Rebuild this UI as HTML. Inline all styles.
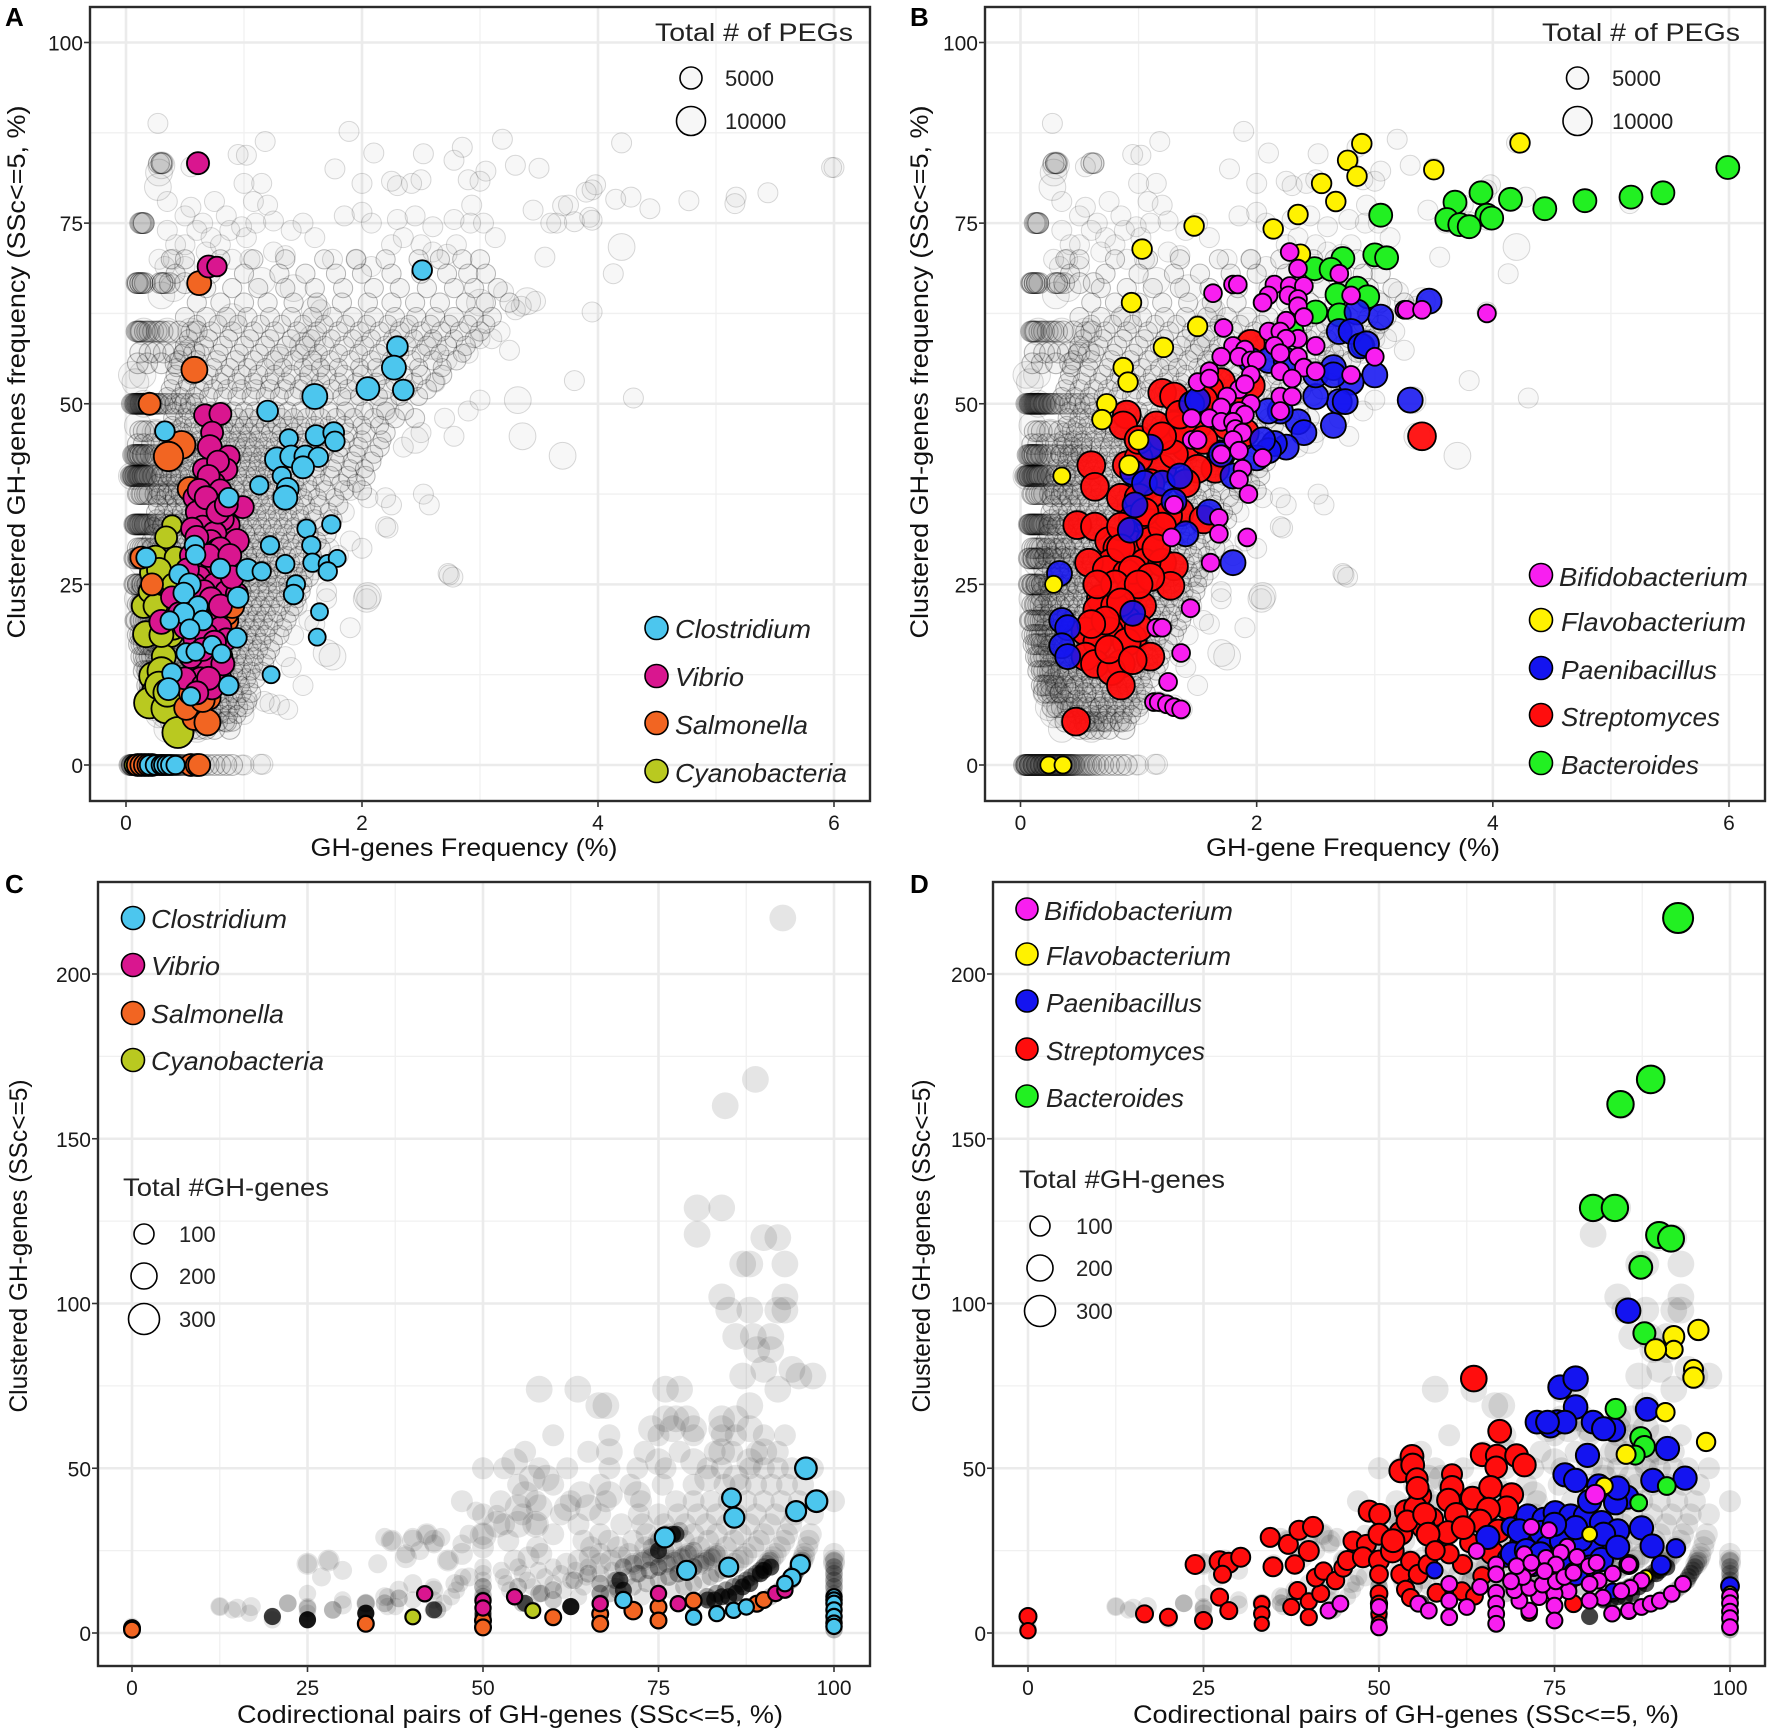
<!DOCTYPE html>
<html lang="en"><head><meta charset="utf-8"><title>GH-gene clustering scatter panels</title>
<style>
html,body{margin:0;padding:0;background:#fff}
svg{display:block;font-family:"Liberation Sans",sans-serif}
.tick{font-size:21px;fill:#1a1a1a}
.axt{font-size:25px;fill:#111}
.leg{font-size:26px;font-style:italic;fill:#222}
.lt{font-size:25px;fill:#222}
.ln{font-size:22px;fill:#222}
.letter{font-size:26px;font-weight:bold;fill:#000}
.frame{fill:none;stroke:#2b2b2b;stroke-width:2.4}
.lk{stroke:#000;stroke-width:1.6}
</style></head><body>
<svg id="figure" xmlns="http://www.w3.org/2000/svg" width="1772" height="1735" viewBox="0 0 1772 1735">
<rect width="1772" height="1735" fill="#fff"/>

<g>
<g id="a-grid"></g><g id="a-bg"></g><g id="a-marks"></g>
<rect class="frame" x="90" y="7" width="780" height="794"/>
<g id="a-ticks"></g>
<text class="letter" x="5" y="26">A</text>
<text class="axt" transform="translate(25,372) rotate(-90)" text-anchor="middle" textLength="533" lengthAdjust="spacingAndGlyphs">Clustered GH-genes frequency (SSc&lt;=5, %)</text>
<text class="axt" x="464" y="856" text-anchor="middle" textLength="307" lengthAdjust="spacingAndGlyphs">GH-genes Frequency (%)</text>
<g>
<text class="lt" x="655" y="41" textLength="198" lengthAdjust="spacingAndGlyphs">Total # of  PEGs</text>
<circle cx="691" cy="78" r="11" fill="#f7f7f7" class="lk"/><text class="ln" x="725" y="86">5000</text>
<circle cx="691" cy="121" r="14.5" fill="#f7f7f7" class="lk"/><text class="ln" x="725" y="129">10000</text>
</g>
<g>
<circle cx="656.5" cy="628" r="11.5" fill="#4cc6ee" class="lk"/><text class="leg" x="675" y="638" textLength="136" lengthAdjust="spacingAndGlyphs">Clostridium</text>
<circle cx="656.5" cy="676" r="11.5" fill="#d9168f" class="lk"/><text class="leg" x="675" y="686" textLength="69" lengthAdjust="spacingAndGlyphs">Vibrio</text>
<circle cx="656.5" cy="723" r="11.5" fill="#f26522" class="lk"/><text class="leg" x="675" y="734" textLength="133" lengthAdjust="spacingAndGlyphs">Salmonella</text>
<circle cx="656.5" cy="771" r="11.5" fill="#b9c920" class="lk"/><text class="leg" x="675" y="782" textLength="172" lengthAdjust="spacingAndGlyphs">Cyanobacteria</text>
</g>
</g>

<g>
<g id="b-grid"></g><g id="b-bg"></g><g id="b-marks"></g>
<rect class="frame" x="985" y="7" width="780" height="794"/>
<g id="b-ticks"></g>
<text class="letter" x="910" y="26">B</text>
<text class="axt" transform="translate(928,372) rotate(-90)" text-anchor="middle" textLength="533" lengthAdjust="spacingAndGlyphs">Clustered GH-genes frequency (SSc&lt;=5, %)</text>
<text class="axt" x="1353" y="856" text-anchor="middle" textLength="294" lengthAdjust="spacingAndGlyphs">GH-gene Frequency (%)</text>
<g>
<text class="lt" x="1542" y="41" textLength="198" lengthAdjust="spacingAndGlyphs">Total # of  PEGs</text>
<circle cx="1577.5" cy="78" r="11" fill="#f7f7f7" class="lk"/><text class="ln" x="1612" y="86">5000</text>
<circle cx="1577.5" cy="121" r="14.5" fill="#f7f7f7" class="lk"/><text class="ln" x="1612" y="129">10000</text>
</g>
<g>
<circle cx="1541" cy="575" r="11.5" fill="#f81ff0" class="lk"/><text class="leg" x="1559" y="586" textLength="189" lengthAdjust="spacingAndGlyphs">Bifidobacterium</text>
<circle cx="1541" cy="620" r="11.5" fill="#fff200" class="lk"/><text class="leg" x="1561" y="631" textLength="185" lengthAdjust="spacingAndGlyphs">Flavobacterium</text>
<circle cx="1541" cy="668" r="11.5" fill="#1414f0" class="lk"/><text class="leg" x="1561" y="679" textLength="156" lengthAdjust="spacingAndGlyphs">Paenibacillus</text>
<circle cx="1541" cy="715" r="11.5" fill="#ff0d0d" class="lk"/><text class="leg" x="1561" y="726" textLength="159" lengthAdjust="spacingAndGlyphs">Streptomyces</text>
<circle cx="1541" cy="763" r="11.5" fill="#22f022" class="lk"/><text class="leg" x="1561" y="774" textLength="138" lengthAdjust="spacingAndGlyphs">Bacteroides</text>
</g>
</g>

<g>
<g id="c-grid"></g><g id="c-bg"></g><g id="c-marks"></g>
<rect class="frame" x="98" y="882" width="772" height="784"/>
<g id="c-ticks"></g>
<text class="letter" x="5" y="893">C</text>
<text class="axt" transform="translate(27,1246) rotate(-90)" text-anchor="middle" textLength="333" lengthAdjust="spacingAndGlyphs">Clustered GH-genes (SSc&lt;=5)</text>
<text class="axt" x="510" y="1723" text-anchor="middle" textLength="546" lengthAdjust="spacingAndGlyphs">Codirectional pairs of GH-genes (SSc&lt;=5, %)</text>
<g>
<circle cx="133" cy="918" r="11.5" fill="#4cc6ee" class="lk"/><text class="leg" x="151" y="928" textLength="136" lengthAdjust="spacingAndGlyphs">Clostridium</text>
<circle cx="133" cy="965" r="11.5" fill="#d9168f" class="lk"/><text class="leg" x="151" y="975" textLength="69" lengthAdjust="spacingAndGlyphs">Vibrio</text>
<circle cx="133" cy="1013" r="11.5" fill="#f26522" class="lk"/><text class="leg" x="151" y="1023" textLength="133" lengthAdjust="spacingAndGlyphs">Salmonella</text>
<circle cx="133" cy="1060" r="11.5" fill="#b9c920" class="lk"/><text class="leg" x="151" y="1070" textLength="173" lengthAdjust="spacingAndGlyphs">Cyanobacteria</text>
</g>
<g>
<text class="lt" x="123" y="1196" textLength="206" lengthAdjust="spacingAndGlyphs">Total #GH-genes</text>
<circle cx="144" cy="1234" r="10" fill="#fff" class="lk"/><text class="ln" x="179" y="1242">100</text>
<circle cx="144" cy="1276" r="13" fill="#fff" class="lk"/><text class="ln" x="179" y="1284">200</text>
<circle cx="144" cy="1319" r="15.5" fill="#fff" class="lk"/><text class="ln" x="179" y="1327">300</text>
</g>
</g>

<g>
<g id="d-grid"></g><g id="d-bg"></g><g id="d-marks"></g>
<rect class="frame" x="993" y="882" width="772" height="784"/>
<g id="d-ticks"></g>
<text class="letter" x="910" y="893">D</text>
<text class="axt" transform="translate(930,1246) rotate(-90)" text-anchor="middle" textLength="333" lengthAdjust="spacingAndGlyphs">Clustered GH-genes (SSc&lt;=5)</text>
<text class="axt" x="1406" y="1723" text-anchor="middle" textLength="546" lengthAdjust="spacingAndGlyphs">Codirectional pairs of GH-genes (SSc&lt;=5, %)</text>
<g>
<circle cx="1027" cy="909" r="11" fill="#f81ff0" class="lk"/><text class="leg" x="1044" y="920" textLength="189" lengthAdjust="spacingAndGlyphs">Bifidobacterium</text>
<circle cx="1027" cy="954" r="11" fill="#fff200" class="lk"/><text class="leg" x="1046" y="965" textLength="185" lengthAdjust="spacingAndGlyphs">Flavobacterium</text>
<circle cx="1027" cy="1001" r="11" fill="#1414f0" class="lk"/><text class="leg" x="1046" y="1012" textLength="156" lengthAdjust="spacingAndGlyphs">Paenibacillus</text>
<circle cx="1027" cy="1049" r="11" fill="#ff0d0d" class="lk"/><text class="leg" x="1046" y="1060" textLength="159" lengthAdjust="spacingAndGlyphs">Streptomyces</text>
<circle cx="1027" cy="1096" r="11" fill="#22f022" class="lk"/><text class="leg" x="1046" y="1107" textLength="138" lengthAdjust="spacingAndGlyphs">Bacteroides</text>
</g>
<g>
<text class="lt" x="1019" y="1188" textLength="206" lengthAdjust="spacingAndGlyphs">Total #GH-genes</text>
<circle cx="1040" cy="1226" r="10" fill="#fff" class="lk"/><text class="ln" x="1076" y="1234">100</text>
<circle cx="1040" cy="1268" r="13" fill="#fff" class="lk"/><text class="ln" x="1076" y="1276">200</text>
<circle cx="1040" cy="1311" r="15.5" fill="#fff" class="lk"/><text class="ln" x="1076" y="1319">300</text>
</g>
</g>
</svg>

<script>
/* ---------- axis tick labels ---------- */
const freqTicks = [0,2,4,6];
const freqMinorTicks = [1,3,5];
const pctTicks = [0,25,50,75,100];
const pctMinorTicks = [12.5,37.5,62.5,87.5];
const clusteredTicks = [0,50,100,150,200];
const clusteredMinorTicks = [25,75,125,175];

/* ---------- background genomes, panels A and B: rows of [clustered %, [GH freq %...]] ---------- */
const bgPegLevelRows = [
[0,[.03,.04,.05,.06,.07,.08,.09,.1,.11,.12,.13,.14,.15,.16,.17,.18,.19,.2,.21,.22,.23,.24,.25,.26,.27,.28,.29,.3,.31,.32,.33,.34,.35,.36,.37,.38,.4,.41,.43,.44,.46,.48,.5,.52,.54,.56,.58,.6,.63,.66,.7,.75,.8,.85,.9,.05,.06,.08,.09,.11,.12,.14,.15,.17,.18,.2,.21,.23,.24,.26,.27,.29,.3,.32,.33,.35,.37,.39,.42,.45,.05,.08,.11,.14,.17,.2,.23,.26,.29,.32,.35,.38,.41]],
[83.3,[.28,.3,.3,.31,.6,.62]],
[75,[.12,.13,.14,.15,.15]],
[66.7,[.09,.1,.1,.12,.12,.14,.14,.16,.29,.31,.31,.33,.37,.5,.62]],
[60,[.09,.1,.11,.12,.13,.16,.18,.2,.23,.26,.28,.31,.36,.45,.6]],
[57.1,[.12,.2,.25,.32,.4,.5,.58]],
[55.6,[.1,.18,.3,.42]],
[50,[.05,.06,.07,.08,.08,.09,.09,.1,.1,.11,.11,.12,.12,.13,.13,.14,.14,.15,.15,.16,.16,.17,.17,.18,.19,.2,.2,.21,.22,.24,.25,.27,.28,.31,.34,.38,.42,.46,.5,.55,.6]],
[46.2,[.12,.15,.18,.25,.33,.44]],
[44.4,[.1,.15,.22,.3,.4,.52]],
[42.9,[.06,.07,.08,.09,.1,.1,.11,.12,.12,.14,.14,.15,.17,.18,.21,.25,.3,.35,.4,.45,.52]],
[40,[.04,.05,.06,.06,.07,.08,.08,.09,.1,.1,.11,.11,.12,.12,.13,.14,.14,.15,.16,.16,.17,.18,.2,.23,.26,.3,.34,.38,.43]],
[37.5,[.1,.11,.13,.14,.16,.18,.2,.25,.3,.35,.4,.47]],
[33.3,[.07,.08,.08,.09,.1,.1,.11,.11,.12,.12,.13,.14,.14,.15,.16,.16,.17,.18,.19,.2,.22,.25,.28,.32,.36,.4,.45,.5,.6]],
[30,[.1,.12,.14,.16,.18,.22,.27,.33,.38]],
[28.6,[.07,.08,.1,.11,.11,.13,.14,.14,.15,.17,.2,.24,.28,.33,.38,.45]],
[25,[.07,.08,.1,.1,.11,.13,.14,.14,.16,.18,.2,.24,.28,.33,.4,.48]],
[22.2,[.1,.12,.13,.15,.17,.21,.26,.32,.4]],
[20,[.08,.09,.12,.13,.15,.17,.19,.23,.28,.35,.43]],
[18,[.1,.12,.14,.16,.18,.24,.3,.38]],
[16.7,[.11,.13,.15,.18,.2,.26,.33,.42]],
[15,[.13,.15,.17,.2,.22,.28,.36,.46]],
[13,[.15,.18,.2,.23,.25,.32,.4,.5]],
[11,[.18,.2,.23,.26,.3,.38,.48]],
[10,[.2,.23,.26,.3,.34,.44,.55]],
[8,[.27,.31,.35,.4,.45,.56,.68]],
[6,[.38,.43,.48,.54,.6,.72,.85]],
[5,[.5,.56,.62,.68,.75,.88]]
];
const bgPegBodyRows = [
[6,[.55,.63,.7,.78,.84,.9,.58,.66]],[8,[.42,.5,.6,.67,.74,.81,.88,.95,1.0]],[9,[.37,.47,.52,.64,.71,.79,.86,.93,1.03]],[10,[.33,.42,.56,.62,.69,.77,.83,.91,.98,1.06]],
[12,[.28,.36,.44,.53,.6,.66,.72,.8,.87,.94,1.02,1.1]],[14,[.25,.34,.41,.49,.57,.63,.7,.78,.85,.92,.99,1.08,1.17]],[16,[.23,.31,.39,.46,.54,.61,.67,.74,.82,.89,.96,1.04,1.12,1.22]],
[18,[.21,.29,.37,.44,.52,.59,.66,.73,.8,.88,.95,1.02,1.1,1.18,1.3]],[20,[.2,.27,.36,.43,.5,.58,.65,.71,.78,.86,.93,1.01,1.09,1.16,1.25,1.36]],[22,[.19,.26,.34,.42,.49,.56,.63,.7,.77,.84,.92,.99,1.07,1.14,1.22,1.31,1.42]],
[24,[.18,.25,.33,.41,.48,.55,.62,.69,.76,.83,.9,.98,1.05,1.13,1.2,1.29,1.38,1.48]],[26,[.2,.28,.35,.43,.51,.58,.65,.73,.8,.87,.95,1.03,1.11,1.19,1.27,1.36,1.45,1.55]],[28,[.21,.29,.37,.45,.53,.6,.67,.75,.82,.9,.97,1.05,1.12,1.21,1.3,1.39,1.48,1.6]],
[30,[.22,.3,.38,.46,.54,.61,.69,.76,.84,.92,1.0,1.07,1.15,1.23,1.32,1.41,1.52,1.65]],[32,[.24,.31,.39,.47,.55,.63,.7,.78,.86,.94,1.01,1.09,1.17,1.26,1.35,1.44,1.55,1.7]],[34,[.26,.33,.41,.49,.57,.65,.72,.8,.88,.96,1.03,1.11,1.2,1.29,1.38,1.48,1.6,1.75]],
[36,[.27,.35,.43,.5,.58,.66,.74,.82,.9,.98,1.06,1.14,1.23,1.32,1.42,1.52,1.64,1.8]],[38,[.28,.36,.44,.52,.6,.68,.76,.84,.92,1.0,1.08,1.17,1.26,1.35,1.45,1.56,1.69,1.85,2.0]],[40,[.3,.38,.46,.54,.62,.7,.78,.86,.94,1.02,1.1,1.19,1.28,1.38,1.48,1.6,1.73,1.88,2.03]],
[42,[.32,.4,.48,.56,.65,.73,.81,.89,.97,1.05,1.13,1.22,1.31,1.41,1.52,1.64,1.77,1.92,2.08]],[44,[.35,.44,.52,.6,.68,.76,.85,.93,1.01,1.09,1.18,1.27,1.36,1.46,1.57,1.69,1.82,1.97,2.15]],[46,[.37,.47,.55,.64,.72,.8,.88,.97,1.05,1.14,1.23,1.32,1.42,1.52,1.63,1.75,1.88,2.03,2.2]],
[48,[.4,.5,.58,.68,.77,.86,.95,1.04,1.13,1.22,1.32,1.42,1.53,1.65,1.78,1.93,2.1,2.28,2.45]],[52,[.38,.5,.62,.74,.86,.98,1.1,1.22,1.34,1.47,1.6,1.74,1.88,2.04,2.2,2.38,2.55]],[54,[.42,.56,.7,.84,.98,1.12,1.26,1.4,1.55,1.7,1.85,2.0,2.17,2.35,2.5,2.68]],
[56,[.45,.6,.77,.93,1.08,1.25,1.42,1.58,1.73,1.9,2.08,2.25,2.42,2.6,2.8]],[58,[.5,.66,.82,1.0,1.18,1.36,1.52,1.68,1.85,2.02,2.2,2.38,2.55,2.72,2.88]],[60,[.55,.72,.9,1.08,1.26,1.45,1.62,1.8,1.98,2.15,2.32,2.5,2.67,2.83,3.0]],
[62,[.5,.68,.85,1.03,1.22,1.4,1.58,1.75,1.92,2.1,2.28,2.46,2.62,2.78,2.95,3.1]],[64,[.6,.8,1.0,1.2,1.42,1.62,1.83,2.05,2.25,2.45,2.66,2.88,3.05,3.25]],[66,[.68,.9,1.12,1.35,1.6,1.84,2.1,2.32,2.55,2.78,2.95,3.15]],
[68,[.42,.72,1.0,1.3,1.52,1.78,2.0,2.25,2.5,2.72,2.9,3.05]],[70,[.38,.5,.8,1.08,1.35,1.68,1.95,2.2,2.48,2.66,2.85,3.0]]
];
const bgPegBodyFill = [
[7,[.47,.52,.6,.66,.73,.8,.87,.94]],[11,[.3,.37,.46,.54,.6,.67,.75,.82,.89,.97,1.04]],[13,[.26,.33,.4,.48,.55,.62,.69,.76,.84,.91,.98,1.06,1.15]],
[15,[.24,.3,.38,.45,.52,.59,.65,.72,.8,.87,.94,1.01,1.09,1.19]],[17,[.22,.28,.35,.42,.5,.56,.63,.7,.77,.85,.92,1.0,1.07,1.15,1.25]],[19,[.2,.26,.33,.41,.47,.55,.62,.68,.75,.83,.9,.97,1.05,1.13,1.21,1.33]],
[21,[.18,.24,.31,.39,.46,.53,.6,.67,.74,.81,.88,.96,1.03,1.11,1.19,1.28,1.39]],[23,[.17,.23,.3,.38,.45,.52,.59,.66,.73,.8,.87,.95,1.02,1.1,1.18,1.26,1.35,1.45]],[25,[.17,.24,.32,.39,.46,.53,.6,.67,.74,.81,.88,.96,1.04,1.12,1.2,1.28,1.37,1.5]],
[27,[.19,.26,.33,.41,.48,.55,.63,.7,.77,.85,.92,1.0,1.08,1.16,1.24,1.33,1.42,1.52]],[29,[.2,.27,.35,.42,.5,.57,.65,.72,.8,.87,.95,1.03,1.1,1.18,1.27,1.36,1.46,1.58]],[31,[.21,.28,.36,.44,.51,.59,.66,.74,.82,.89,.97,1.05,1.13,1.21,1.3,1.39,1.49,1.62]],
[33,[.23,.3,.37,.45,.53,.6,.68,.76,.83,.91,.99,1.07,1.15,1.24,1.33,1.42,1.53,1.67]],[35,[.25,.32,.4,.47,.55,.63,.71,.79,.87,.95,1.03,1.11,1.19,1.28,1.37,1.47,1.58,1.72]],[37,[.26,.33,.41,.49,.57,.65,.73,.81,.89,.97,1.05,1.13,1.22,1.31,1.4,1.5,1.62,1.77]],
[39,[.27,.35,.43,.51,.59,.67,.75,.83,.91,.99,1.07,1.15,1.24,1.33,1.43,1.54,1.66,1.82,1.95]],[41,[.3,.38,.46,.54,.62,.7,.79,.87,.95,1.03,1.11,1.2,1.29,1.39,1.5,1.62,1.75,1.9,2.02]],[43,[.33,.41,.5,.58,.66,.74,.83,.91,.99,1.07,1.16,1.25,1.34,1.44,1.55,1.67,1.8,1.95,2.1]],
[45,[.36,.45,.53,.62,.7,.78,.87,.95,1.03,1.12,1.21,1.3,1.4,1.5,1.61,1.73,1.86,2.0,2.17]],[47,[.39,.48,.57,.66,.75,.83,.92,1.0,1.09,1.18,1.28,1.38,1.48,1.6,1.72,1.85,2.0,2.15]],[49,[.41,.52,.62,.72,.82,.91,1.0,1.09,1.18,1.27,1.37,1.48,1.6,1.72,1.86,2.02,2.2,2.36]],
[51,[.35,.46,.58,.7,.82,.94,1.06,1.18,1.3,1.42,1.55,1.68,1.83,1.98,2.14,2.32,2.48]],[53,[.4,.52,.66,.8,.94,1.08,1.22,1.36,1.5,1.65,1.8,1.95,2.12,2.28,2.44,2.62]],[55,[.43,.58,.74,.88,1.03,1.18,1.33,1.5,1.65,1.8,1.98,2.12,2.3,2.48,2.68]],
[57,[.48,.63,.79,.96,1.13,1.3,1.47,1.63,1.8,1.97,2.14,2.32,2.5,2.66,2.85]],[59,[.53,.7,.87,1.05,1.22,1.4,1.57,1.74,1.92,2.08,2.26,2.44,2.6,2.78,2.95]],[61,[.6,.78,.95,1.14,1.32,1.5,1.68,1.86,2.04,2.22,2.4,2.58,2.74,2.9,3.05]]
];
const bgPegLarge = [[.28,82],[.27,80],[.3,83],[.14,54],[.1,47],[.05,40],[.09,40],[.17,40],[.4,66],[.3,65],[.1,23],[.2,14],[.27,12],[.3,9],[.25,11],[.33,7],[.4,7],[.48,6],[.6,5],[.05,54],[.08,53],[.15,50],[.25,46],[.8,46],[1.02,44],[1.2,42],[1.5,44],[1.3,56],[1.5,58],[1.6,55],[1.58,59],[1.9,50],[2.2,49],[2.18,50],[2.45,45],[3.36,45.5],[3.7,42.8],[3.32,50.5],[4.2,71.7],[1.15,67],[.9,62],[.55,60],[.35,60],[.15,60],[1.42,66],[1.6,63],[2.35,60],[2.6,58],[3,64],[3.4,64.2],[2.04,23],[2.05,23.4],[1.7,15.5],[1.75,15],[.22,10],[.24,8],[.28,7],[.18,14],[.2,17],[.15,20],[.16,24],[.14,28],[.35,5],[.55,8],[.7,6.5],[.8,9],[.42,10],[.35,14]];
const bgPegOuter = [[.27,88.8],[.62,83.3],[.95,84.5],[1.02,84.4],[1.18,86.3],[1.89,87.7],[1.77,82.5],[2.1,84.7],[2.52,84.6],[2.85,85.5],[3.19,86.6],[4.2,86.1],[6,82.7],[3.3,83],[3.5,82.6],[2.78,83.7],[2.9,81],[3.05,82.2],[2.3,80.2],[2.5,81],[2.42,80.5],[2.0,80.5],[2.25,80.8],[3,80.8],[3.98,80.3],[4.28,78.6],[3.95,79.6],[5.98,82.7],[5.44,79.2],[5.17,78.6],[5.16,77.7],[4.77,78.1],[4.44,77],[4.15,78.3],[3.9,79.3],[3.7,77.4],[3.75,77.5],[3.8,75.2],[3.93,75.8],[3.95,75.4],[3.65,75],[3.45,76.8],[3.6,75],[4.13,68],[3.55,70.3],[3.95,62.7],[3.47,64.2],[3.35,63.5],[3.3,63],[3.2,65.5],[3.25,57.4],[3.8,53.2],[4.3,50.8],[1,80.5],[1.15,80.5],[1.08,78],[1.2,77.5],[.75,78],[.55,77.2],[.5,76],[.35,78],[.65,75],[.88,74],[.98,74.5],[1.02,73],[1.1,75],[1.25,75.3],[1.05,70],[1.4,74],[1.5,75],[1.85,76],[2,76.5],[2.08,75],[2.3,75.5],[2.45,76],[2.6,74.5],[2.78,75.5],[2.92,75],[3.03,75],[2.93,77.5],[3.13,73],[2.5,72],[2.6,71],[2.72,70.7],[2.8,72],[2.25,72],[2.35,73],[1.25,71],[1.35,70.5],[1.6,73],[1.75,70],[1.95,70],[2.08,69],[.4,70],[.33,69],[.28,70],[.5,72],[.6,74],[.72,73],[.8,72],[.9,70],[.85,76],[.68,71],[1.65,63],[.55,82.8],[.35,74],[.42,72],[.5,69],[1.2,26.5],[2.73,26.5],[2.77,26],[2.74,26.3],[2.04,23],[2.0,30],[1.9,31],[1.85,35],[1.9,38],[2.05,37],[2.2,37],[2.25,36],[2.2,33],[2.22,32.8],[2.52,37.5],[2.57,36],[1.8,29],[1.7,23],[1.7,24],[1.9,19],[1.6,19.5],[1.55,20],[1.22,8.5],[1.17,8.8],[1.3,8.3],[1.37,7.7],[1.02,8.5],[1.0,7],[1.14,.1],[1.16,.1],[1,0],[.98,0],[1.5,11],[1.4,13.5],[1.35,15],[1.42,18],[1.45,22],[1.5,26],[1.6,27],[1.72,30],[2.35,44],[2.5,46],[2.7,48],[2.78,45.5],[2.9,49],[3,50.5],[2.62,53],[2.72,56],[2.9,57],[3,59],[3.1,59],[3.17,60]];

/* ---------- highlighted genera, panels A and B: [GH freq %, clustered %, PEGs in thousands] ---------- */
const cyanoFreq = [[.39,33.2,4],[.34,31.5,5],[.25,28.7,6],[.42,28.7,5],[.22,26.6,6],[.28,27,6],[.15,22,6],[.2,24,5],[.4,25,5],[.3,22,6],[.17,18.1,7],[.25,22,6],[.38,18,6],[.4,19,6],[.32,15,6],[.23,12.3,8],[.3,13,8],[.25,10,8],[.2,8.6,10],[.34,7.8,9],[.44,4.5,10],[.28,11,8],[.35,10,8],[.3,18,6],[.07,0,4],[.1,0,4],[.12,0,4],[.25,0,4],[.3,0,4]];
const salmonellaFreq = [[.62,66.7,6],[.58,54.7,7],[.2,50,5],[.47,44.3,8],[.36,42.7,9],[.54,38.2,6],[.13,28.7,5],[.22,25,5],[.85,20,6],[.8,14.4,6],[.58,6.5,6],[.69,5.9,7],[.7,9.3,6],[.51,7.9,6],[.75,18,6],[.85,21,6],[.9,22,6],[.6,12,6],[.75,14,6],[.55,10,6],[.65,9,6],[.8,15,6],[.1,0,5],[.13,0,5],[.16,0,5],[.19,0,5],[.22,0,5],[.55,0,5],[.6,0,5],[.62,0,5]];
const vibrioFreq = [[.61,83.3,5],[.7,69,5],[.77,69,4],[.67,48.4,5],[.8,48.6,5],[.73,46,5],[.71,44,6],[.87,42.7,5],[.85,40.9,5],[.66,40.9,5],[.74,38.9,6],[.78,42,5],[.7,40,5],[.8,38,5],[.75,36,5],[.58,37,5],[.99,35.7,5],[.71,34.6,5],[.87,33.2,5],[.6,35,5],[.65,33,5],[.82,34,5],[.56,32.7,5],[.75,32,6],[.94,31,6],[.63,31,5],[.72,31,5],[.78,29.7,6],[.8,30,5],[.61,28,6],[.55,29,5],[.68,28,5],[.85,27.6,5],[.73,26.6,5],[.62,26,5],[.58,25,5],[.8,24.9,5],[.75,25,5],[.55,24,5],[.85,24,5],[.94,23.7,5],[.39,23.2,5],[.7,22.9,5],[.65,22,5],[.45,21,5],[.3,19.8,6],[.75,20,5],[.5,19,5],[.8,19,5],[.58,17.4,5],[.85,17.4,5],[.6,14,5],[.7,14,5],[.63,12,5],[.5,12,5],[.8,12,5],[.65,11,5],[.73,10.6,5],[.62,38,5.5],[.68,37,5.5],[.78,35,5.5],[.85,36,5.5],[.6,31.5,5.5],[.7,29,5.5],[.88,29,5.5],[.9,26,5.5],[.52,27,5.5],[.66,24,5.5],[.72,23,5.5],[.8,22,5.5],[.6,20,5.5],[.68,18,5.5],[.75,17,5.5],[.55,15,5.5],[.65,16,5.5],[.82,14,5.5],[.7,12,5.5],[.6,10,5.5]];
const clostridiumFreq = [[2.51,68.5,4],[2.3,57.9,4.5],[2.27,55,6],[2.35,51.9,4.5],[2.05,52.1,5.5],[1.6,51,6.5],[1.2,49,4.5],[1.38,45.2,3.5],[1.61,45.6,4.5],[1.76,46,4.5],[1.77,44.8,4],[1.28,42.3,6],[1.4,42.7,5],[1.52,42.7,5],[1.63,42.6,4],[1.5,41.2,5],[1.32,40,3.5],[1.13,38.7,3.5],[1.37,38.2,5],[1.35,37,6],[.33,46.2,4],[.87,37,4],[1.74,33.3,3.5],[1.53,32.7,3.5],[1.57,30.4,3.5],[1.22,30.4,3.5],[.58,30.4,4],[.59,29.1,4],[1.35,27.8,3.5],[1.58,28,3.5],[1.71,27.8,3.5],[1.79,28.6,3],[1.71,26.8,3.5],[1.03,27,5],[1.15,26.8,3.5],[.8,27.2,4],[1.44,25,3.5],[1.42,23.6,4],[1.64,21.2,3],[1.62,17.7,3],[1.23,12.5,3],[.95,23.2,4.5],[.94,17.6,4],[.17,28.7,4],[.45,26.4,4],[.54,25,5],[.49,23.8,4.5],[.61,22,4],[.49,21,4.5],[.37,20,3.5],[.65,20,4],[.54,18.8,4],[.73,16.6,3.5],[.51,15.5,4],[.59,15.7,3.5],[.81,15.4,3.5],[.39,12.7,4],[.36,10.5,5],[.55,9.5,3.5],[.87,11,4],[.2,0,4],[.25,0,4],[.3,0,4],[.32,0,4],[.35,0,4],[.38,0,4],[.42,0,3.5]];

const bacteroidesFreq = [[5.99,82.7],[5.44,79.2],[5.17,78.6],[4.78,78.1],[4.44,77],[4.15,78.3],[3.9,79.2],[3.95,76.1],[3.99,75.7],[3.68,77.9],[3.61,75.5],[3.72,74.8],[3.8,74.5],[3.05,76.1],[3,70.6],[3.1,70.2],[2.73,70.1],[2.49,68.7],[2.63,68.6],[2.85,66],[2.68,65.1],[2.94,64.8],[2.5,62.7],[2.7,62.3],[2.3,60],[2.9,58]];
const streptomycesFreq = [[1.95,58.3],[1.95,52.5],[1.7,53],[1.6,52],[1.2,51.5],[1.3,51],[1.45,49.5],[.9,48.5],[.87,47],[1.3,47],[1.6,49],[1.5,47],[1.8,50],[1.75,47],[1.9,46],[1.1,44],[1.4,44],[1.7,43],[1.65,41],[1.5,41],[1.27,45],[1.37,46.5],[1.55,45],[.6,41.5],[.9,41.5],[1.2,41],[1.1,39],[1.4,39],[1.3,43],[1,42.5],[.63,38.5],[.85,37],[1,37],[1.15,36.5],[1.35,35],[.95,34],[1.1,33.5],[.48,33.2],[.63,33],[1.55,34],[1.25,34.5],[.75,31],[.95,30.5],[.82,30],[1.1,31],[.77,28],[.58,28],[1.05,28],[1.2,28],[1.3,27.5],[.73,27],[.9,26.5],[1.27,24.8],[.93,24],[.68,23],[.65,21.5],[1.03,22],[.9,20],[.8,22],[.55,18.5],[.75,18.5],[.95,17.5],[.65,17],[.9,17],[1.1,15],[.55,15],[.63,14],[.85,14],[.77,13],[.85,11],[.47,6],[3.4,45.5],[1,45],[1.15,47],[1.35,48.5],[1.55,50.5],[1.2,45.5],[.85,33],[1.05,35],[1.2,33],[.85,30],[1.15,30],[.95,27],[1.1,26],[.8,25],[1,25],[.85,22.5],[1,19],[.75,16],[.95,14.5],[.65,25],[.72,20],[.6,19.5]];
const paenibacillusFreq = [[3.46,64.2],[3.05,62],[2.85,62.7],[2.7,60],[2.8,60],[2.88,58],[2.93,58.3],[3,54],[2.8,53],[3.3,50.5],[2.7,50.3],[2.75,50.3],[2.65,47],[2.35,47.5],[2.4,46],[2.25,44],[2.15,44.5],[2.1,43.5],[2,42.5],[2.05,45],[2.5,51],[2.2,49],[2.1,49],[2.5,54],[2.65,55],[2.65,54],[2.1,56],[2.25,56],[1.95,56],[1.7,43],[1.8,40],[1.45,50],[1.5,50.5],[1.1,44],[.95,40.5],[1.05,39],[1.2,39],[1.35,40],[.97,36],[1.3,36.5],[.93,32.5],[1.4,32],[1.6,35],[1.8,28],[.33,26.5],[.35,20],[.4,19],[.35,16.5],[.4,15],[.95,21]];
const flavobacteriumFreq = [[4.23,86.1],[2.89,86],[2.77,83.7],[2.85,81.5],[3.5,82.4],[2.55,80.5],[2.67,78],[2.35,76.2],[2.14,74.2],[1.47,74.6],[1.03,71.4],[2.37,70.7],[.94,64],[1.5,60.7],[1.21,57.8],[.87,55],[.91,53],[.73,50],[.69,47.8],[1,45],[.92,41.5],[.35,40,3],[.28,25,3],[.24,0,3],[.36,0,3]];
const bifidobacteriumFreq = [[2.28,71],[2.35,68.7],[2.7,68],[1.63,65.3],[1.8,66.5],[1.84,66.5],[2.15,66.5],[2.28,66.3],[2.4,66.3],[2.1,65],[2.05,64],[2.27,65],[2.35,64.5],[2.8,65],[3.25,63],[3.27,63],[3.4,63],[3.95,62.5],[2.35,63.5],[2.25,61.5],[2.4,62],[1.72,60.5],[2.1,60],[2.2,60],[2.35,59],[2.25,59],[2.5,58],[1.8,58],[2.15,58],[1.9,57.5],[1.7,56.5],[1.85,56.5],[1.95,56],[2,56],[2.2,57],[2.35,56.5],[2.4,55],[2.5,54.5],[2.2,54.5],[2.3,53.5],[1.95,54],[1.6,54.5],[1.5,53],[1.6,53.5],[1.85,52],[1.75,51],[1.9,52.7],[2.2,51],[2.3,51],[1.95,50],[1.7,49.5],[1.85,49],[1.9,48.5],[1.6,48],[1.45,48],[1.7,47.5],[1.8,47.5],[1.82,46.5],[1.88,46],[1.45,45],[1.5,45],[1.8,45],[1.85,43.5],[1.7,43],[2.05,42.5],[1.88,41],[1.85,39.5],[1.93,37.5],[1.3,36],[1.68,34.2],[1.68,32],[1.92,31.5],[1.28,31.5],[1.61,28],[1.44,21.7],[1.15,19],[1.2,19],[1.36,15.5],[1.25,11.5],[1.13,8.7],[1.17,8.7],[1.24,8.4],[1.3,8],[1.36,7.7],[2.8,54],[3,56.5],[2.2,49]];

/* ---------- background genomes, panels C and D: rows of [clustered count, [codirectional %...]] ---------- */
const bgPairRowsSmall = [
[1,[0,0,100,100,100]],[2,[0,50,50,100,100,100]],[3,[33.3,66.7,100,100,100]],[4,[20,25,25,50,75,100,100,100]],[5,[20,20,20,40,60,80,80,100,100,100]],
[6,[16.7,25,33.3,33.3,33.3,50,50,66.7,83.3,83.3,100,100]],[7,[14.3,28.6,42.9,57.1,57.1,71.4,85.7,85.7,100,100]],[8,[12.5,25,36.4,37.5,50,62.5,62.5,62.5,75,87.5,87.5,100,100]],
[9,[22.2,33.3,44.4,55.6,55.6,66.7,66.7,77.8,88.9,88.9,100,100]],[10,[30,40,43,50,50,60,60,70,70,80,80,90,90,100,100]],[11,[36.4,45.5,54.5,54.5,63.6,72.7,81.8,81.8,90.9,90.9,100]],
[12,[25,41.7,50,58.3,58.3,66.7,66.7,75,75,83.3,83.3,91.7,91.7,100,100]],[13,[46.2,53.8,61.5,69.2,69.2,76.9,84.6,84.6,92.3,92.3,100]],[14,[42.9,50,57.1,64.3,71.4,71.4,78.6,78.6,85.7,85.7,92.9,92.9,100]],
[15,[46.7,53.3,60,66.7,73.3,73.3,80,80,86.7,86.7,93.3,93.3,100]],[16,[50,56.3,62.5,68.8,68.8,75,75,81.3,87.5,87.5,93.8,93.8,100]],[17,[47.1,52.9,58.8,64.7,70.6,76.5,82.4,82.4,88.2,88.2,94.1,94.1,100]],
[18,[50,55.6,61.1,66.7,72.2,72.2,77.8,77.8,83.3,83.3,88.9,88.9,94.4,94.4,100]],[19,[52.6,57.9,63.2,68.4,73.7,78.9,84.2,84.2,89.5,89.5,94.7,100]],[20,[50,55,60,65,70,75,75,80,80,85,85,90,90,95,95,100]]
];
const bgPairRowsMid = [
[21,[25,61.9,66.7,71.4,76.2,81,85.7,90.5,95.2,100]],[22,[28,45,54.5,63.6,68.2,72.7,77.3,81.8,86.4,90.9,95.5,100]],[23,[39,56.5,65.2,69.6,73.9,78.3,82.6,87,91.3,95.7]],[24,[47,58.3,66.7,70.8,75,79.2,83.3,87.5,91.7,95.8,100]],
[26,[50,57.7,65.4,69.2,73.1,76.9,80.8,84.6,88.5,92.3,96.2]],[28,[37,40,43,53.6,64.3,67.9,71.4,75,78.6,82.1,85.7,89.3,92.9,96.4]],[30,[42,50,60,66.7,73.3,76.7,80,83.3,86.7,90,93.3,96.7]],[33,[53,57.6,63.6,69.7,72.7,75.8,78.8,81.8,84.8,87.9,90.9,93.9]],
[36,[50,55.6,61.1,66.7,72.2,75,77.8,80.6,83.3,86.1,88.9,91.7,94.4,97]],[40,[47,52.5,57.5,62.5,67.5,72.5,77.5,80,82.5,85,87.5,90,92.5,95,100]],[45,[55,60,66.7,71,75.6,80,84.4,86.7,88.9,91.1,93.3,95.6]],[50,[50,53,58,62,68,72,76,82,84,88,90,92,94,97]],[55,[56,65,73,78,83,85.5,89,92]],[60,[60,68,75,80,84,86,90,93]]
];
const bgPairRowsLarge = [
[29.5,[50]],[33,[52,55,57.5]],[38,[55,58,62,65]],[42,[56,64,68,72]],[47,[57,59,82,86]],[52,[54.5,75,80,88]],[55,[68,84,90]],[62,[74,77,80,84,88]],[65,[76,77.5,79,84,86]],[69,[66.5,67.5,88]],[74,[58,63.5,76,78,92]],[78,[87,95,97]],[80,[90,94]],[86,[89,91]],[90,[86,88.5,91]],[98,[85,88,92,93]],[102,[84,93]],[112,[87,88,93]],[120,[90,92]],[121,[80.5]],[129,[80.5,84]],[160,[84.5]],[168,[88.8]],[217,[92.7]]
];
const bgPairScatter = [[12.5,8],[15,7.5],[17,8],[25,21],[28,22],[30,19],[27,17],[37,28],[40,29],[42,30],[43,27],[36,29],[35,21],[39,24],[45,22],[48,17],[46,15],[43,13],[40,15],[38,13],[36,11],[33.3,9],[30,8.5],[41,25],[47,27],[52,36],[49,37],[48,30],[44,29]];
const bgPairArcDark = [[82,11],[83.3,12],[84.6,13],[85.7,14],[86.7,15],[87.5,16],[88.2,17],[88.9,18],[89.5,19],[90,20],[90.5,21],[90.9,22],[76.5,17],[77.8,18],[78.9,19],[80,20],[81,21],[81.8,22],[82.6,23],[83.3,24],[72,18],[73.7,19],[75,20],[76.2,21],[77.3,22],[78.3,23],[79.2,24],[80,25],[70,20],[71.4,21],[72.7,22],[73.9,23],[75,24],[76,25],[69,14],[69,16],[68,12],[70,10],[66.7,9],[66.7,12],[66.7,15],[75,28],[76,30],[78,31],[74,26],[93.9,16],[94.1,17],[94.4,18],[94.7,19],[95,20],[95.2,21],[95.5,22],[100,14],[100,16],[100,18],[100,20],[100,22],[50,14],[50,11],[22.2,9],[25,7.5],[28.6,7],[33.3,9],[36,9],[38,10.5],[43.5,7],[55,14],[58,12],[60,13],[63,16],[65,18]];
const stackDarkPairs = [[20,5],[25,4],[25,4],[33.3,6],[33.3,6],[62.5,8],[62.5,8],[80,5],[43,7],[50,5],[50,6],[56,9],[75,25],[76,29.5],[77.5,30],[77,30],[69.5,16],[70,13],[83,10],[85,11],[82,10],[88,15],[89.5,18],[90,19],[91,20],[84,11],[86,12],[87,14]];

/* ---------- highlighted genera, panels C and D: [codirectional %, clustered count, total GH-genes] ---------- */
const cyanoPairs = [[40,4.9],[57.1,6.8]];
const salmonellaPairs = [[0,1.5],[0,1],[33.3,2.8],[50,3.8],[50,1.7],[60,4.8],[66.7,5.8],[66.7,2.8],[71.4,6.8,75],[75,7.9],[75,3.8],[80,9.8],[89,8.9],[90,10]];
const vibrioPairs = [[41.7,11.9],[54.5,11],[50,9.8],[50,7.6],[66.7,8.9],[75,12],[77.8,8.9],[91.7,12],[93,13]];
const clostridiumPairs = [[96,50,117],[97.5,40,117],[94.6,37,100],[85.4,41,88],[85.8,35,100],[75.9,29,100],[79,19,90],[85,20,90],[95.2,20.8,90],[94,16.8,76],[93,15,60],[70,10,65],[80,4.8],[83.3,5.9],[85.7,6.9],[87.5,7.9],[100,11],[100,10],[100,9],[100,7],[100,5],[100,3],[100,2]];

const streptomycesPairs = [[0,5,72],[0,.7,60],[16.6,5.8,72],[20,4.8,72],[25,3.8,72],[23.8,20.8,90],[27.3,21.8,100],[28.6,21.3,100],[30.3,23,90],[27.7,17.8,72],[27.3,10.9,72],[28.6,6.8,72],[33.3,8.9,60],[33.3,5.8,60],[33.3,2.8,50],[34.5,29,90],[37.1,26.9,90],[38.6,31.2,90],[40.6,32.2,100],[40,24.9,100],[38,20.8,85],[34.9,20.1,90],[38.4,12.9,72],[37.5,7.9,65],[40,9.6,65],[40,4.8,65],[41.7,12,72],[41,16.8,80],[42.1,18.8,75],[43.8,15.9,75],[44.9,19.8,80],[45.5,22,90],[46.3,27.9,90],[48.2,26.9,90],[48.6,37,110],[50.1,36,110],[50,30,110],[47.7,23,100],[50,22,100],[50,17.8,80],[50,12,70],[50,8.9,65],[50,5.8,60],[50,2.8,55],[51.9,24.9],[53.1,30.3],[53.1,49.2,130],[54.7,53.6,130],[54.8,51,130],[55.4,46.7,117],[55.9,41.6,117],[53.8,37,117],[55.2,38,130],[57.5,34.5],[56.3,32.3],[53.1,17.8,90],[54.5,21.8,90],[55.6,17.8,90],[53.8,13.2,75],[54.5,10.7,75],[57,20.8,90],[58.2,12.2,80],[58.6,29.2],[60.4,48.2,100],[60.4,44.2],[59.9,40.3],[61,36],[59.8,30.5],[61.8,12.7,80],[63.3,40.9],[62.9,27.4,90],[61.9,20.8,90],[63.5,77.2,165],[64.7,54.1,130],[66.8,53.8,120],[67.2,61.2,130],[66.7,50.3,117],[69.6,53.8],[70.7,51,130],[65.9,44.2,130],[68.9,42],[68.2,38],[65.6,37.6],[64.4,34],[66.1,24.4],[64.7,17.3,80],[63.6,11.2,70],[77.7,8.9,70],[71.4,6,60],[55.5,44,120],[54,34,110],[56.5,36],[57,30],[52,28],[60,24,90],[62,32],[58,25,90],[67,31],[69,24]];
const paenibacillusPairs = [[85.5,97.8,150],[75.8,74.6,140],[78,77.2,150],[78,68.6,140],[75.4,64,140],[72.5,64,130],[74.4,62.8,130],[76.5,64,130],[80.5,64,130],[83.4,61.7],[88.2,67.9,130],[91.1,56],[79.7,53.9],[76.5,48],[78,46.3],[81.3,44.6],[85.3,41.2],[83.7,39.5],[89,46.3],[93.6,47],[87.4,31.9],[88.9,26.4],[92.3,25.7,85],[90.2,20.6,90],[65.5,29],[68.8,32.2,90],[71.2,35.5],[73.5,34.5],[75.1,36.5],[77.3,35.5],[79.4,35.5],[81.7,33.5],[84,31],[82.1,27.9],[80.5,24.4],[81.7,22.3],[71.7,28.4],[70.3,26.9],[73.1,30.5],[75.9,30.5],[78.7,28.4],[68.2,22.8,80],[57.9,19,65],[100,14.2,80],[85.6,20.8,90],[83.3,12.7,60],[85.6,6.6,60],[77,15,70],[75,25],[72,20,80],[72,22],[74,26],[76,28],[78,32],[70,31],[82,30],[84,26],[69,24],[71,25],[77,22],[80,20],[78,18],[73,24],[75,33],[74,64,130],[82,62],[80,40],[84,44]];
const bacteroidesPairs = [[92.6,217,225],[88.7,168,190],[84.4,160.5,175],[80.5,129,175],[83.6,129,175],[89.9,120.8,170],[91.6,119.7,170],[87.3,111,130],[87.8,91,120],[83.7,68,100],[87.3,59.3,110],[87.8,56.6,110],[86.5,54,90],[91,44.6,80],[87,39.5,70]];
const flavobacteriumPairs = [[95.5,92,105],[92,90,110],[92,86,80],[89.4,86,110],[94.8,80,90],[94.8,77.5,105],[90.8,67,85],[96.6,58,85],[85.2,54.2,90],[82.1,44.6,70],[80,30,55],[88,17,45],[100,12,50],[100,10,45]];
const bifidobacteriumPairs = [[80.8,42,95],[71.7,32.2],[74.2,31.2],[63.9,24.9],[66.7,20.8],[66.7,17.8],[66.7,12.2],[66.7,8.9],[66.7,5.8],[66.7,2.8],[60,14.9],[60,9.8],[60,4.8],[55.6,8.9],[57.1,6.8],[62.5,7.9],[50,7.9],[50,1.7],[42.8,6.8],[44.5,8.9],[64.4,14],[70.7,23.9],[71.5,20],[73.8,22.8],[76.8,26.2],[78.2,23.1],[75.9,24.4],[75.2,20.8],[79.9,20.3],[81,21.3],[85.6,20.8],[83.3,18],[81.3,15.9],[80,14.9],[87.4,15.9],[85.8,13.7],[84.5,12.7],[81.9,10.7],[80,9.8],[77,12.7],[75,12],[75,8.3],[75,3.8],[72.8,10.9],[71.4,6.8],[70,9.8],[69.3,13],[71.4,13.7],[73.3,14.7],[75.2,15.7],[76.4,17],[77.7,18.3],[73.6,18.8],[70.5,17],[68.8,15.7],[69.6,20.3],[71.7,21.3],[83.2,5.9],[85.6,6.8],[87.4,7.9],[88.7,8.9],[90,9.8],[91.7,11.9],[93.3,14.9],[100,11],[100,9],[100,6.5],[100,4.5],[100,1.8]];

/* ---------- drawing ---------- */
const NS = 'http://www.w3.org/2000/svg';
function linear(d0, d1, r0, r1) { return v => r0 + (v - d0) * (r1 - r0) / (d1 - d0); }
function rPeg(thousands) { return 4.9 * Math.sqrt(thousands); }
function rGene(total) { return Math.sqrt(total); }
function expandRows(rows) {
  const out = [];
  rows.forEach(row => row[1].forEach(x => out.push([x, row[0]])));
  return out;
}

function drawAxes(id, box, xS, yS, xTicks, xMinor, yTicks, yMinor, tickLen) {
  const grid = document.getElementById(id + '-grid');
  const ticks = document.getElementById(id + '-ticks');
  function gridLine(x1, y1, x2, y2, w, col) {
    const l = document.createElementNS(NS, 'line');
    
    
    l.setAttribute('x1', x1); l.setAttribute('y1', y1); l.setAttribute('x2', x2); l.setAttribute('y2', y2);
    l.setAttribute('stroke', col); l.setAttribute('stroke-width', w);
    grid.appendChild(l);
  }
  xMinor.forEach(v => gridLine(xS(v), box.top, xS(v), box.bottom, 1.3, '#f0f0f0'));
  yMinor.forEach(v => gridLine(box.left, yS(v), box.right, yS(v), 1.3, '#f0f0f0'));
  xTicks.forEach(v => gridLine(xS(v), box.top, xS(v), box.bottom, 2.6, '#ebebeb'));
  yTicks.forEach(v => gridLine(box.left, yS(v), box.right, yS(v), 2.6, '#ebebeb'));
  function tick(x1, y1, x2, y2) {
    const l = document.createElementNS(NS, 'line');
    
    
    l.setAttribute('x1', x1); l.setAttribute('y1', y1); l.setAttribute('x2', x2); l.setAttribute('y2', y2);
    l.setAttribute('stroke', '#333'); l.setAttribute('stroke-width', 1.6);
    ticks.appendChild(l);
  }
  function label(x, y, str, anchor) {
    const t = document.createElementNS(NS, 'text');
    
    
    t.setAttribute('class', 'tick');
    t.setAttribute('x', x); t.setAttribute('y', y); t.setAttribute('text-anchor', anchor);
    t.textContent = str;
    ticks.appendChild(t);
  }
  xTicks.forEach(v => { tick(xS(v), box.bottom, xS(v), box.bottom + tickLen); label(xS(v), box.bottom + 29, v, 'middle'); });
  yTicks.forEach(v => { tick(box.left, yS(v), box.left - tickLen, yS(v)); label(box.left - 7, yS(v) + 8, v, 'end'); });
}

function drawPoints(layer, pts, xS, yS, radius, name, fill, stroke, sw) {
  pts.forEach(p => {
    const c = document.createElementNS(NS, 'circle');
    
    
    c.setAttribute('cx', xS(p[0]).toFixed(1));
    c.setAttribute('cy', yS(p[1]).toFixed(1));
    c.setAttribute('r', radius(p[2]).toFixed(1));
    c.setAttribute('fill', fill);
    if (stroke) { c.setAttribute('stroke', stroke); c.setAttribute('stroke-width', sw); }
    layer.appendChild(c);
  });
}

function drawFreqBackground(id, xS, yS) {
  const layer = document.getElementById(id + '-bg');
  const f = 'rgba(90,90,90,.075)', s = 'rgba(0,0,0,.27)';
  const fo = 'rgba(120,120,120,.06)', so = 'rgba(0,0,0,.15)';
  drawPoints(layer, bgPegOuter, xS, yS, () => rPeg(4.2), 'background-genome', fo, so, 1);
  drawPoints(layer, bgPegLarge, xS, yS, () => rPeg(7.5), 'background-genome', fo, so, 1);
  drawPoints(layer, expandRows(bgPegLevelRows), xS, yS, () => rPeg(4.5), 'background-genome', f, s, 1.1);
  drawPoints(layer, expandRows(bgPegBodyRows), xS, yS, () => rPeg(3.8), 'background-genome', f, s, 1);
  drawPoints(layer, expandRows(bgPegBodyFill), xS, yS, () => rPeg(3.4), 'background-genome', f, s, 1);
}
function drawPairBackground(id, xS, yS) {
  const layer = document.getElementById(id + '-bg');
  const f = 'rgba(0,0,0,.1)';
  drawPoints(layer, expandRows(bgPairRowsSmall), xS, yS, () => rGene(75), 'background-genome', f);
  drawPoints(layer, expandRows(bgPairRowsMid), xS, yS, () => rGene(120), 'background-genome', f);
  drawPoints(layer, expandRows(bgPairRowsLarge), xS, yS, () => rGene(180), 'background-genome', f);
  drawPoints(layer, bgPairScatter, xS, yS, () => rGene(90), 'background-genome', f);
  drawPoints(layer, bgPairArcDark, xS, yS, () => rGene(80), 'background-genome', 'rgba(0,0,0,.2)');
  drawPoints(layer, stackDarkPairs, xS, yS, () => rGene(72), 'background-genome-stack', 'rgba(0,0,0,.68)');
}
function drawGenus(id, pts, name, color, radius, defSize, sw) {
  const layer = document.getElementById(id + '-marks');
  const cfg = panelScales[id];
  drawPoints(layer, pts, cfg.x, cfg.y, v => radius(v === undefined ? defSize : v), name, color, '#000', sw);
}

const boxA = {left: 90, right: 870, top: 7, bottom: 801};
const boxB = {left: 985, right: 1765, top: 7, bottom: 801};
const boxC = {left: 98, right: 870, top: 882, bottom: 1666};
const boxD = {left: 993, right: 1765, top: 882, bottom: 1666};
const panelScales = {
  a: {x: linear(0, 6, 126, 834), y: linear(0, 100, 765, 42.5)},
  b: {x: linear(0, 6, 1020.5, 1729), y: linear(0, 100, 765, 42.5)},
  c: {x: linear(0, 100, 132, 834), y: linear(0, 200, 1633, 974)},
  d: {x: linear(0, 100, 1028, 1730), y: linear(0, 200, 1633, 974)}
};

drawAxes('a', boxA, panelScales.a.x, panelScales.a.y, freqTicks, freqMinorTicks, pctTicks, pctMinorTicks, 6);
drawAxes('b', boxB, panelScales.b.x, panelScales.b.y, freqTicks, freqMinorTicks, pctTicks, pctMinorTicks, 6);
drawAxes('c', boxC, panelScales.c.x, panelScales.c.y, pctTicks, pctMinorTicks, clusteredTicks, clusteredMinorTicks, 6);
drawAxes('d', boxD, panelScales.d.x, panelScales.d.y, pctTicks, pctMinorTicks, clusteredTicks, clusteredMinorTicks, 6);

drawFreqBackground('a', panelScales.a.x, panelScales.a.y);
drawFreqBackground('b', panelScales.b.x, panelScales.b.y);
drawPairBackground('c', panelScales.c.x, panelScales.c.y);
drawPairBackground('d', panelScales.d.x, panelScales.d.y);

drawGenus('a', cyanoFreq, 'cyanobacteria-point', '#b9c920', rPeg, 5, 1.8);
drawGenus('a', salmonellaFreq, 'salmonella-point', '#f26522', rPeg, 5, 1.8);
drawGenus('a', vibrioFreq, 'vibrio-point', '#d9168f', rPeg, 5, 1.8);
drawGenus('a', clostridiumFreq, 'clostridium-point', '#4cc6ee', rPeg, 4, 1.8);

drawGenus('b', bacteroidesFreq, 'bacteroides-point', '#22f022', rPeg, 5.5, 1.8);
drawGenus('b', streptomycesFreq, 'streptomyces-point', 'rgba(255,13,13,.95)', rPeg, 8, 1.8);
drawGenus('b', paenibacillusFreq, 'paenibacillus-point', 'rgba(20,20,240,.88)', rPeg, 6.5, 1.8);
drawGenus('b', flavobacteriumFreq, 'flavobacterium-point', '#fff200', rPeg, 4, 1.8);
drawGenus('b', bifidobacteriumFreq, 'bifidobacterium-point', '#f81ff0', rPeg, 3.3, 1.8);

drawGenus('c', cyanoPairs, 'cyanobacteria-point', '#b9c920', rGene, 55, 2.2);
drawGenus('c', salmonellaPairs, 'salmonella-point', '#f26522', rGene, 62, 2.2);
drawGenus('c', vibrioPairs, 'vibrio-point', '#d9168f', rGene, 58, 2.2);
drawGenus('c', clostridiumPairs, 'clostridium-point', '#4cc6ee', rGene, 58, 2.2);

drawGenus('d', streptomycesPairs, 'streptomyces-point', '#ff0d0d', rGene, 130, 2);
drawGenus('d', paenibacillusPairs, 'paenibacillus-point', '#1414f0', rGene, 135, 2);
drawGenus('d', bacteroidesPairs, 'bacteroides-point', '#22f022', rGene, 100, 2);
drawGenus('d', flavobacteriumPairs, 'flavobacterium-point', '#fff200', rGene, 90, 2);
drawGenus('d', bifidobacteriumPairs, 'bifidobacterium-point', '#f81ff0', rGene, 62, 2);
</script>
</body></html>
